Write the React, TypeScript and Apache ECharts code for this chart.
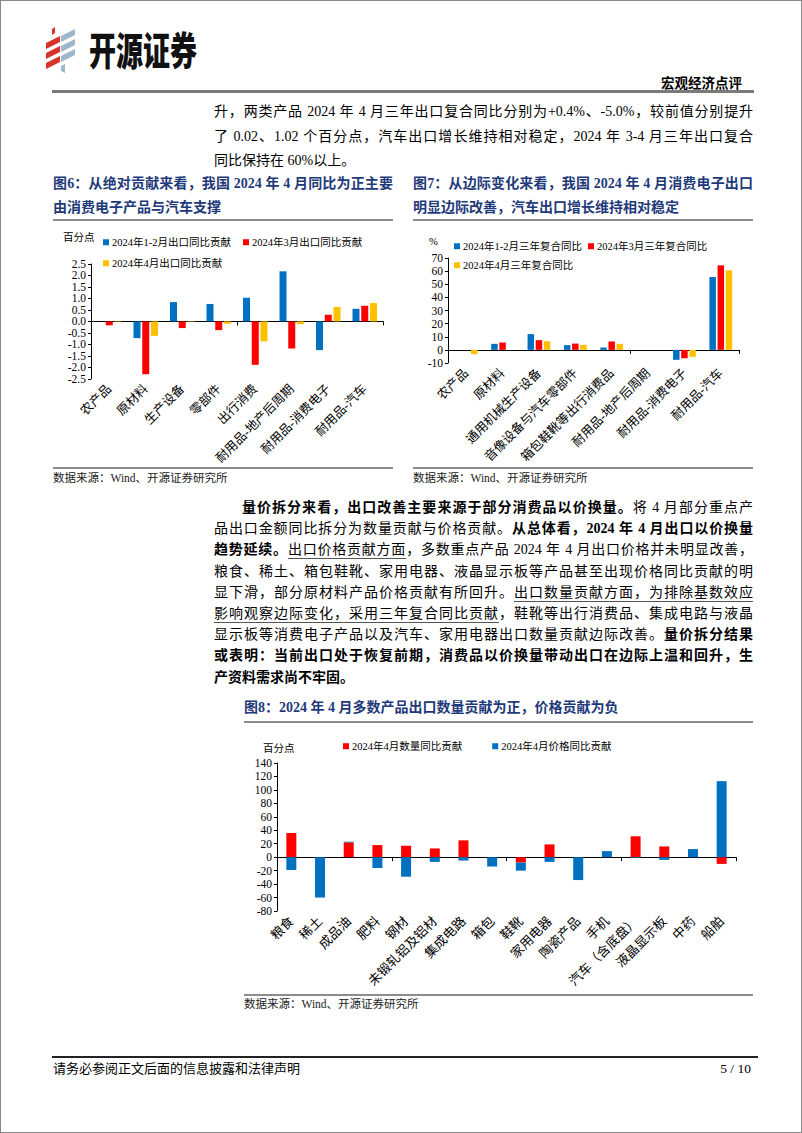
import React, { useEffect, useRef } from "react";
import * as echarts from "echarts";

const FONT = "'Liberation Serif','Noto Sans CJK SC',serif";
const BLUE = "#0070C0";
const RED = "#FF0000";
const YELLOW = "#FFC000";
const NAVY = "#1F3A7A";

// ---------- Figure 6 data ----------
const fig6Categories = ["农产品", "原材料", "生产设备", "零部件", "出行消费", "耐用品-地产后周期", "耐用品-消费电子", "耐用品-汽车"];
const fig6Names = ["2024年1-2月出口同比贡献", "2024年3月出口同比贡献", "2024年4月出口同比贡献"];
const fig6JanFeb = [0, -0.73, 0.84, 0.76, 1.03, 2.18, -1.25, 0.55];
const fig6Mar = [-0.17, -2.3, -0.29, -0.38, -1.89, -1.18, 0.29, 0.68];
const fig6Apr = [-0.02, -0.63, -0.02, -0.1, -0.87, -0.12, 0.63, 0.8];

// ---------- Figure 7 data ----------
const fig7Categories = ["农产品", "原材料", "通用机械生产设备", "音像设备与汽车零部件", "箱包鞋靴等出行消费品", "耐用品-地产后周期", "耐用品-消费电子", "耐用品-汽车"];
const fig7Names = ["2024年1-2月三年复合同比", "2024年3月三年复合同比", "2024年4月三年复合同比"];
const fig7JanFeb = [0, 4.6, 12, 3.6, 1.8, 0, -7.6, 55.5];
const fig7Mar = [0, 5.6, 7.4, 4.8, 6.4, 0, -6.4, 64.4];
const fig7Apr = [-3.3, 0, 6.6, 3.8, 4.6, 0, -5.3, 60.6];

// ---------- Figure 8 data ----------
const fig8Categories = ["粮食", "稀土", "成品油", "肥料", "钢材", "未锻轧铝及铝材", "集成电路", "箱包", "鞋靴", "家用电器", "陶瓷产品", "手机", "汽车（含底盘）", "液晶显示板", "中药", "船舶"];
const fig8Names = ["2024年4月数量同比贡献", "2024年4月价格同比贡献"];
const fig8Quantity = [36, 0, 22, 18, 17, 13, 25, 0, -8, 19, 0, 0, 31, 16, 0, -10];
const fig8Price = [-19, -60, 1, -16, -29, -7, -5, -14, -12, -7, -34, 9, -1, -4, 12, 113];

const axisBlack = { color: "#000", width: 1 };

function groupedOption(cats: string[], names: string[], vals: number[][], cfg: any) {
  const colors = [BLUE, RED, YELLOW];
  return {
    animation: false,
    textStyle: { fontFamily: FONT },
    grid: cfg.grid,
    graphic: [
      {
        type: "text",
        left: cfg.unitPos[0],
        top: cfg.unitPos[1],
        style: { text: cfg.unit, fontSize: 10.5, fill: "#000", fontFamily: FONT },
      },
    ],
    legend: [
      {
        data: [names[0], names[1]],
        left: cfg.legendLeft,
        top: cfg.legendTop[0],
        icon: "rect",
        itemWidth: 6,
        itemHeight: 6,
        itemGap: cfg.legendGap,
        textStyle: { fontSize: 10.5, color: "#000", fontFamily: FONT, padding: [0, 0, 0, -2] },
      },
      {
        data: [names[2]],
        left: cfg.legendLeft,
        top: cfg.legendTop[1],
        icon: "rect",
        itemWidth: 6,
        itemHeight: 6,
        textStyle: { fontSize: 10.5, color: "#000", fontFamily: FONT, padding: [0, 0, 0, -2] },
      },
    ],
    xAxis: [
      {
        type: "category",
        data: cats,
        axisLine: { onZero: true, lineStyle: axisBlack },
        axisTick: { show: true, length: 4, lineStyle: axisBlack },
        axisLabel: { show: false },
      },
      {
        type: "category",
        data: cats,
        position: "bottom",
        axisLine: { show: false, onZero: false },
        axisTick: { show: false },
        axisLabel: { rotate: 45, interval: 0, fontSize: 12.5, color: "#000", margin: 8, fontFamily: FONT },
      },
    ],
    yAxis: {
      type: "value",
      min: cfg.min,
      max: cfg.max,
      interval: cfg.interval,
      splitLine: { show: false },
      axisLine: { show: true, lineStyle: axisBlack },
      axisTick: { show: true, length: 3, lineStyle: axisBlack },
      axisLabel: {
        fontSize: 11.5,
        color: "#000",
        margin: 5,
        fontFamily: FONT,
        formatter: cfg.formatter,
      },
    },
    series: vals.map((v, i) => ({
      name: names[i],
      type: "bar",
      data: v,
      xAxisIndex: 0,
      barWidth: cfg.barWidth,
      barGap: "25%",
      itemStyle: { color: colors[i] },
    })),
  };
}

const fig6Option = groupedOption(fig6Categories, fig6Names, [fig6JanFeb, fig6Mar, fig6Apr], {
  grid: { left: 38, right: 10, top: 41, bottom: 88 },
  unit: "百分点",
  unitPos: [10, 9],
  legendLeft: 45,
  legendTop: [9, 30],
  legendGap: 12,
  min: -2.5,
  max: 2.5,
  interval: 0.5,
  barWidth: 7,
  formatter: (v: number) => v.toFixed(1),
});

const fig7Option = groupedOption(fig7Categories, fig7Names, [fig7JanFeb, fig7Mar, fig7Apr], {
  grid: { left: 35, right: 14, top: 35, bottom: 104 },
  unit: "%",
  unitPos: [16, 13],
  legendLeft: 36,
  legendTop: [13, 32],
  legendGap: 6,
  min: -10,
  max: 70,
  interval: 10,
  barWidth: 6.5,
  formatter: (v: number) => String(v),
});

const fig8Option = {
  animation: false,
  textStyle: { fontFamily: FONT },
  grid: { left: 44, right: 17, top: 40, bottom: 82 },
  graphic: [
    {
      type: "text",
      left: 30,
      top: 20,
      style: { text: "百分点", fontSize: 10.5, fill: "#000", fontFamily: FONT },
    },
  ],
  legend: {
    data: fig8Names,
    left: 105,
    top: 13,
    icon: "rect",
    itemWidth: 6,
    itemHeight: 6,
    itemGap: 30,
    textStyle: { fontSize: 10.5, color: "#000", fontFamily: FONT, padding: [0, 0, 0, -2] },
  },
  xAxis: [
    {
      type: "category",
      data: fig8Categories,
      axisLine: { onZero: true, lineStyle: axisBlack },
      axisTick: { show: true, length: 4, lineStyle: axisBlack },
      axisLabel: { show: false },
    },
    {
      type: "category",
      data: fig8Categories,
      position: "bottom",
      axisLine: { show: false, onZero: false },
      axisTick: { show: false },
      axisLabel: { rotate: 45, interval: 0, fontSize: 13, color: "#000", margin: 8, fontFamily: FONT },
    },
  ],
  yAxis: {
    type: "value",
    min: -80,
    max: 140,
    interval: 20,
    splitLine: { show: false },
    axisLine: { show: true, lineStyle: axisBlack },
    axisTick: { show: true, length: 3, lineStyle: axisBlack },
    axisLabel: { fontSize: 11.5, color: "#000", margin: 5, fontFamily: FONT },
  },
  series: [
    {
      name: fig8Names[0],
      type: "bar",
      stack: "total",
      data: fig8Quantity,
      xAxisIndex: 0,
      barWidth: 10,
      itemStyle: { color: RED },
    },
    {
      name: fig8Names[1],
      type: "bar",
      stack: "total",
      data: fig8Price,
      xAxisIndex: 0,
      barWidth: 10,
      itemStyle: { color: BLUE },
    },
  ],
};

function EChart({ option, left, top, width, height }: any) {
  const ref = useRef<HTMLDivElement>(null);
  useEffect(() => {
    const chart = echarts.init(ref.current as HTMLDivElement, null, { renderer: "svg" });
    chart.setOption(option);
    return () => chart.dispose();
  }, []);
  return <div ref={ref} style={{ position: "absolute", left, top, width, height }} />;
}

type Seg = [string, string];

function TLine({ x, y, w, segs, justify = true, size = 14, color = "#000", weight = 400, indent = 0 }: any) {
  return (
    <div
      style={{
        position: "absolute",
        left: x,
        top: y - 11,
        width: w,
        height: 22,
        lineHeight: "22px",
        fontSize: size,
        color,
        fontWeight: weight,
        fontFamily: FONT,
        textAlign: justify ? "justify" : "left",
        textAlignLast: justify ? "justify" : "left",
        textIndent: indent,
        whiteSpace: "normal",
      } as any}
    >
      {(segs as Seg[]).map(([t, s], i) => (
        <span
          key={i}
          style={{
            fontWeight: s.includes("b") ? 700 : undefined,
            textDecoration: s.includes("u") ? "underline" : undefined,
            textDecorationColor: "#555",
            textUnderlineOffset: "4px",
          }}
        >
          {t}
        </span>
      ))}
    </div>
  );
}

const HLine = ({ x, y, w, h = 1.5, c = "#8c8c8c" }: any) => (
  <div style={{ position: "absolute", left: x, top: y, width: w, height: h, background: c }} />
);

const topPara: Seg[][] = [
  [["升，两类产品 2024 年 4 月三年出口复合同比分别为+0.4%、-5.0%，较前值分别提升", ""]],
  [["了 0.02、1.02 个百分点，汽车出口增长维持相对稳定，2024 年 3-4 月三年出口复合", ""]],
  [["同比保持在 60%以上。", ""]],
];

const bodyPara: Seg[][] = [
  [["量价拆分来看，出口改善主要来源于部分消费品以价换量。", "b"], ["将 4 月部分重点产", ""]],
  [["品出口金额同比拆分为数量贡献与价格贡献。", ""], ["从总体看，2024 年 4 月出口以价换量", "b"]],
  [["趋势延续。", "b"], ["出口价格贡献方面", "u"], ["，多数重点产品 2024 年 4 月出口价格并未明显改善，", ""]],
  [["粮食、稀土、箱包鞋靴、家用电器、液晶显示板等产品甚至出现价格同比贡献的明", ""]],
  [["显下滑，部分原材料产品价格贡献有所回升。", ""], ["出口数量贡献方面，为排除基数效应", "u"]],
  [["影响观察边际变化，采用三年复合同比贡献", "u"], ["，鞋靴等出行消费品、集成电路与液晶", ""]],
  [["显示板等消费电子产品以及汽车、家用电器出口数量贡献边际改善。", ""], ["量价拆分结果", "b"]],
  [["或表明：当前出口处于恢复前期，消费品以价换量带动出口在边际上温和回升，生", "b"]],
  [["产资料需求尚不牢固。", "b"]],
];

function Logo() {
  return (
    <svg style={{ position: "absolute", left: 42, top: 26 }} width={36} height={48} viewBox="0 0 36 48">
      <polygon points="9,2 12,0 12,6 9,8" fill="#D9342B" />
      <polygon points="3,16 17,9 17,15 3,22" fill="#D9342B" />
      <polygon points="3,26 17,19 17,25 3,32" fill="#D9342B" />
      <polygon points="3,36 17,29 17,35 3,42" fill="#D9342B" />
      <polygon points="18,9 32,2 32,8 18,15" fill="#9DB8CC" />
      <polygon points="18,19 32,12 32,18 18,25" fill="#9DB8CC" />
      <polygon points="18,29 32,22 32,28 18,35" fill="#9DB8CC" />
      <polygon points="18,39 22,37 22,46 18,44" fill="#9DB8CC" />
    </svg>
  );
}

export default function App() {
  return (
    <div
      style={{
        position: "absolute",
        left: 0,
        top: 0,
        width: 802,
        height: 1133,
        background: "#fff",
        overflow: "hidden",
        boxSizing: "border-box",
        border: "1px solid #888",
        fontFamily: FONT,
      }}
    >
      <Logo />
      <div
        style={{
          position: "absolute",
          left: 88,
          top: 28,
          fontSize: 27,
          lineHeight: "28px",
          fontWeight: 900,
          fontFamily: "'Noto Sans CJK SC'",
          color: "#111",
          transform: "scaleY(1.45)",
          transformOrigin: "0 0",
        }}
      >
        开源证券
      </div>
      <div style={{ position: "absolute", left: 660, top: 75, fontSize: 13.5, fontWeight: 700, lineHeight: "16px", color: "#000", fontFamily: FONT }}>
        宏观经济点评
      </div>
      <HLine x={51} y={89} w={702} h={2.5} c="#7a7a7a" />

      {topPara.map((segs, i) => (
        <TLine key={"t" + i} x={213} y={111 + i * 24.5} w={539} segs={segs} justify={i < 2} />
      ))}

      {/* figure titles */}
      <TLine x={52} y={183} w={340} segs={[["图6：从绝对贡献来看，我国 2024 年 4 月同比为正主要", ""]]} color={NAVY} weight={700} />
      <TLine x={52} y={207} w={340} segs={[["由消费电子产品与汽车支撑", ""]]} color={NAVY} weight={700} justify={false} />
      <TLine x={412} y={183} w={340} segs={[["图7：从边际变化来看，我国 2024 年 4 月消费电子出口", ""]]} color={NAVY} weight={700} />
      <TLine x={412} y={207} w={340} segs={[["明显边际改善，汽车出口增长维持相对稳定", ""]]} color={NAVY} weight={700} justify={false} />
      <HLine x={52} y={218} w={340} />
      <HLine x={412} y={218} w={340} />

      <EChart option={fig6Option} left={52} top={222} width={340} height={244} />
      <EChart option={fig7Option} left={412} top={222} width={340} height={244} />

      <HLine x={52} y={466} w={340} />
      <HLine x={412} y={466} w={340} />
      <TLine x={52} y={477} w={300} segs={[["数据来源：Wind、开源证券研究所", ""]]} size={11.5} justify={false} color="#222" />
      <TLine x={412} y={477} w={300} segs={[["数据来源：Wind、开源证券研究所", ""]]} size={11.5} justify={false} color="#222" />

      {bodyPara.map((segs, i) => (
        <TLine
          key={"b" + i}
          x={213}
          y={507 + i * 21.2}
          w={539}
          segs={segs}
          justify={i < bodyPara.length - 1}
          indent={i === 0 ? 28 : 0}
        />
      ))}

      <TLine x={243} y={707} w={509} segs={[["图8：2024 年 4 月多数产品出口数量贡献为正，价格贡献为负", ""]]} color={NAVY} weight={700} justify={false} />
      <HLine x={243} y={720} w={509} />

      <EChart option={fig8Option} left={232} top={722} width={520} height={270} />

      <HLine x={243} y={993} w={509} />
      <TLine x={243} y={1003} w={300} segs={[["数据来源：Wind、开源证券研究所", ""]]} size={11.5} justify={false} color="#222" />

      <HLine x={51} y={1055} w={706} h={1.5} c="#222" />
      <TLine x={52} y={1068} w={400} segs={[["请务必参阅正文后面的信息披露和法律声明", ""]]} size={13} justify={false} />
      <div style={{ position: "absolute", right: 50, top: 1058, fontSize: 13.5, lineHeight: "20px", fontFamily: FONT }}>5 / 10</div>
    </div>
  );
}
